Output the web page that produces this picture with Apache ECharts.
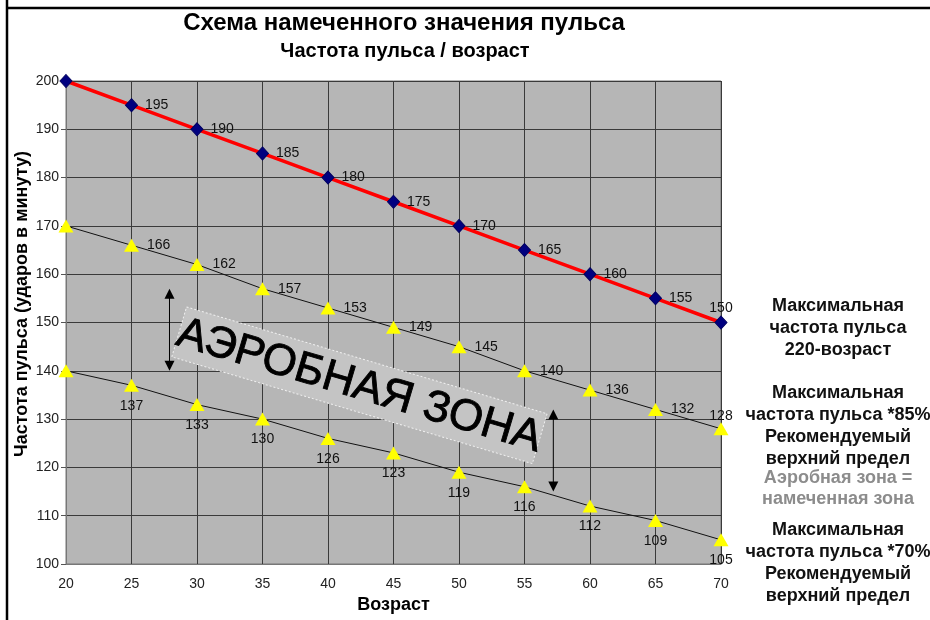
<!DOCTYPE html>
<html><head><meta charset="utf-8">
<script src="https://cdn.jsdelivr.net/npm/echarts@6/dist/echarts.min.js"></script>
<style>html,body{margin:0;padding:0;background:#fff}#c{width:930px;height:620px}</style>
</head><body><div id="c"></div>
<script>
const ages = [20,25,30,35,40,45,50,55,60,65,70];
const maxRate = [200,195,190,185,180,175,170,165,160,155,150];
const rate85 = [170,166,162,157,153,149,145,140,136,132,128];
const rate70 = [140,137,133,130,126,123,119,116,112,109,105];
const yTicks = {min:100, max:200, interval:10};
const xTicks = {min:20, max:70, interval:5};
const zoneLabel = 'АЭРОБНАЯ ЗОНА';
const zoneAt = [42.4, 137];
const arrows = [{age:27.9, from:157, to:140}, {age:57.2, from:132, to:115}];

const F = '"Liberation Sans", Arial, sans-serif';
function mk(vals, pos, lastPos, lastDist){
  return vals.map((v,i)=>{
    const last = i===vals.length-1;
    const lab = {show:i>0, position: last ? lastPos : pos};
    if (last && lastDist!=null) lab.distance = lastDist;
    return {value:[ages[i],v], label:lab};
  });
}
const chart = echarts.init(document.getElementById('c'));
const opt = {
  animation:false,
  title:[
    {text:'Схема намеченного значения пульса', left:399, top:6, textAlign:'center', textStyle:{fontFamily:F,fontSize:24,fontWeight:'bold',color:'#000'}},
    {text:'Частота пульса / возраст', left:400, top:36, textAlign:'center', textStyle:{fontFamily:F,fontSize:20,fontWeight:'bold',color:'#000'}}
  ],
  grid:{left:66, right:209, top:81, bottom:56, show:true, backgroundColor:'#b6b6b6', borderColor:'#777', borderWidth:1},
  xAxis:{type:'value', min:xTicks.min, max:xTicks.max, interval:xTicks.interval,
    name:'Возраст', nameLocation:'middle', nameGap:32,
    nameTextStyle:{fontFamily:F,fontSize:18,fontWeight:'bold',color:'#000'},
    axisLine:{show:true,lineStyle:{color:'#777'}}, axisTick:{show:false},
    axisLabel:{fontFamily:F,fontSize:14,color:'#222',margin:13},
    splitLine:{show:true,lineStyle:{color:'#3a3a3a',width:1}}},
  yAxis:{type:'value', min:yTicks.min, max:yTicks.max, interval:yTicks.interval,
    axisLine:{show:true,lineStyle:{color:'#777'}}, axisTick:{show:true,length:5,lineStyle:{color:'#555'}},
    axisLabel:{fontFamily:F,fontSize:14,color:'#222',margin:7},
    splitLine:{show:true,lineStyle:{color:'#3a3a3a',width:1}}},
  series:[
    {type:'line', data:mk(rate85,'right','top',-1), symbol:'triangle', symbolSize:[15,13],
      itemStyle:{color:'#ffff00'}, lineStyle:{color:'#111',width:1},
      label:{fontFamily:F,fontSize:14,color:'#111',distance:8}, z:3},
    {type:'line', data:mk(rate70,'bottom','bottom'), symbol:'triangle', symbolSize:[15,13],
      itemStyle:{color:'#ffff00'}, lineStyle:{color:'#111',width:1},
      label:{fontFamily:F,fontSize:14,color:'#111',distance:7}, z:3},
    {type:'line', data:mk(maxRate,'right','top',0), symbol:'diamond', symbolSize:[12,13],
      itemStyle:{color:'#000080',borderColor:'#000060',borderWidth:1}, lineStyle:{color:'#ff0000',width:3.5},
      label:{fontFamily:F,fontSize:14,color:'#111',distance:7}, z:4}
  ]
};
chart.setOption(opt);

const rightStyle = {fontFamily:F,fontSize:18,fontWeight:'bold',fill:'#111',textAlign:'center',lineHeight:22};
const gfx = [
  {type:'line', shape:{x1:7,y1:0,x2:7,y2:620}, style:{stroke:'#000',lineWidth:2.5}, z:10},
  {type:'line', shape:{x1:6,y1:8,x2:930,y2:8}, style:{stroke:'#000',lineWidth:2.5}, z:10},
  {type:'text', x:22, y:304, rotation:Math.PI/2, style:{text:'Частота пульса (ударов в минуту)', fontFamily:F, fontSize:18, fontWeight:'bold', fill:'#000', textAlign:'center', textVerticalAlign:'middle'}},
  {type:'text', x:838, y:295, style:Object.assign({},rightStyle,{text:'Максимальная\nчастота пульса\n220-возраст'})},
  {type:'text', x:838, y:382, style:Object.assign({},rightStyle,{text:'Максимальная\nчастота пульса *85%\nРекомендуемый\nверхний предел'})},
  {type:'text', x:838, y:468, style:Object.assign({},rightStyle,{text:'Аэробная зона =\nнамеченная зона', fill:'#8c8c8c', lineHeight:21})},
  {type:'text', x:838, y:519, style:Object.assign({},rightStyle,{text:'Максимальная\nчастота пульса *70%\nРекомендуемый\nверхний предел'})}
];
const c1 = chart.convertToPixel({gridIndex:0}, zoneAt);
gfx.push({type:'group', x:c1[0], y:c1[1], rotation:-16.5*Math.PI/180, z:20, children:[
  {type:'rect', shape:{x:-188,y:-26,width:376,height:52}, style:{fill:'#c4c4c4', stroke:'#f0f0f0', lineWidth:1, lineDash:[2,2]}},
  {type:'text', x:0, y:1, style:{text:zoneLabel, fontFamily:F, fontSize:44, fontWeight:'normal', fill:'#000', stroke:'#000', lineWidth:0.9, textAlign:'center', textVerticalAlign:'middle'}}
]});
arrows.forEach(a=>{
  const p1 = chart.convertToPixel({gridIndex:0},[a.age,a.from]);
  const p2 = chart.convertToPixel({gridIndex:0},[a.age,a.to]);
  gfx.push({type:'line', shape:{x1:p1[0],y1:p1[1]+8,x2:p2[0],y2:p2[1]-8}, style:{stroke:'#000',lineWidth:1}, z:21});
  gfx.push({type:'polygon', shape:{points:[[p1[0],p1[1]],[p1[0]-5,p1[1]+10],[p1[0]+5,p1[1]+10]]}, style:{fill:'#000'}, z:21});
  gfx.push({type:'polygon', shape:{points:[[p2[0],p2[1]],[p2[0]-5,p2[1]-10],[p2[0]+5,p2[1]-10]]}, style:{fill:'#000'}, z:21});
});
chart.setOption({graphic:gfx});
</script></body></html>
